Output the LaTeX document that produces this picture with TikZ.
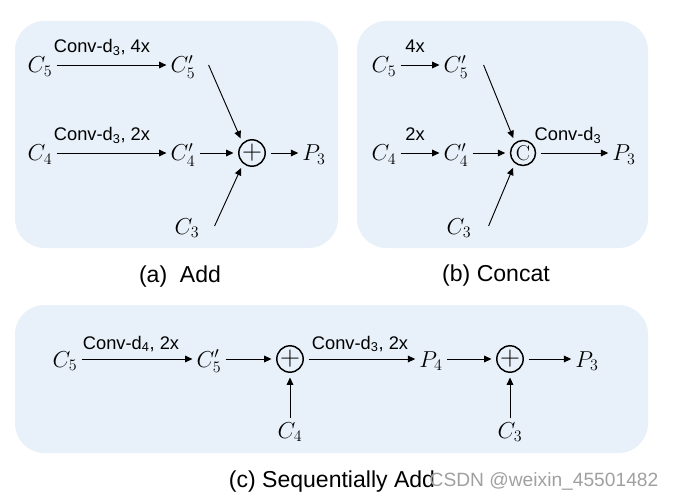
\documentclass[tikz,border=0pt]{standalone}
\usepackage{fontspec}
\setsansfont{Liberation Sans}
\usetikzlibrary{arrows.meta}
\definecolor{panelblue}{RGB}{232,241,249}
\definecolor{markgray}{RGB}{160,160,160}

\begin{document}
\begin{tikzpicture}[x=0.75pt,y=-0.75pt,
  panel/.style={fill=panelblue,rounded corners=22pt},
  feat/.style={inner sep=3pt,text height=12pt,text depth=0pt,font=\LARGE},
  lbl/.style={anchor=base,inner sep=0pt,font=\sffamily\fontsize{13.7}{16}\selectfont},
  subcap/.style={font=\sffamily\LARGE},
  op/.style={draw,circle,line width=1.1pt,minimum size=18.75pt,inner sep=0pt,outer sep=4pt},
  plus/.style={op,font=\huge},
  arr/.style={-{Triangle[length=5.5pt,width=5pt]},line width=0.7pt}]
\useasboundingbox (0,0) rectangle (673,502);

\fill[panel] (15,21) rectangle (338,248);
\fill[panel] (357,21) rectangle (648,248);
\fill[panel] (15,305) rectangle (648,453);

\node[feat] (c5a) at (40,65) {$C_5$};
\node[feat] (c5pa) at (183,65) {$C'_5$};
\node[feat] (c4a) at (40,153) {$C_4$};
\node[feat] (c4pa) at (183,153) {$C'_4$};
\node[feat] (c3a) at (187,226) {$C_3$};
\node[feat] (p3a) at (314,153) {$P_3$};
\node[plus] (adda) at (252,153) {$+$};
\node[lbl] (la1) at (102,53) {Conv-d\textsubscript{3}, 4x};
\node[lbl] (la2) at (102,141) {Conv-d\textsubscript{3}, 2x};

\draw[arr] (c5a) -- (c5pa);
\draw[arr] (c4a) -- (c4pa);
\draw[arr] (c4pa) -- (adda);
\draw[arr] (adda) -- (p3a);
\draw[arr] ([shift={(9,0)}]c5pa.east) -- (adda.128);
\draw[arr] ([shift={(11,0)}]c3a.east) -- (adda.234);
\node[subcap] (capa) at (180,277) {(a)~ Add};

\node[feat] (c5b) at (384,65) {$C_5$};
\node[feat] (c5pb) at (456,65) {$C'_5$};
\node[feat] (c4b) at (384,153) {$C_4$};
\node[feat] (c4pb) at (456,153) {$C'_4$};
\node[feat] (c3b) at (459,226) {$C_3$};
\node[feat] (p3b) at (624,153) {$P_3$};
\node[op,font=\rmfamily\fontsize{16}{16}\selectfont] (catb) at (523,153) {C};
\node[lbl] (lb1) at (415,53) {4x};
\node[lbl] (lb2) at (415,141) {2x};
\node[lbl] (lb3) at (568,141) {Conv-d\textsubscript{3}};

\draw[arr] (c5b) -- (c5pb);
\draw[arr] (c4b) -- (c4pb);
\draw[arr] (c4pb) -- (catb);
\draw[arr] (catb) -- (p3b);
\draw[arr] ([shift={(11,0)}]c5pb.east) -- (catb.123);
\draw[arr] ([shift={(13,0)}]c3b.east) -- (catb.236);
\node[subcap] (capb) at (496,276) {(b) Concat};

\node[feat] (c5c) at (65,359) {$C_5$};
\node[feat] (c5pc) at (209,359) {$C'_5$};
\node[plus] (addc1) at (290,359) {$+$};
\node[feat] (c4c) at (290,430) {$C_4$};
\node[feat] (p4c) at (431,359) {$P_4$};
\node[plus] (addc2) at (510,359) {$+$};
\node[feat] (c3c) at (510,430) {$C_3$};
\node[feat] (p3c) at (587,359) {$P_3$};
\node[lbl] (lc1) at (131,349) {Conv-d\textsubscript{4}, 2x};
\node[lbl] (lc2) at (360,349) {Conv-d\textsubscript{3}, 2x};

\draw[arr] (c5c) -- (c5pc);
\draw[arr] (c5pc) -- (addc1);
\draw[arr] (addc1) -- (p4c);
\draw[arr] (p4c) -- (addc2);
\draw[arr] (addc2) -- (p3c);
\draw[arr] (c4c) -- (addc1);
\draw[arr] (c3c) -- (addc2);
\node[subcap] (capc) at (332,482) {(c) Sequentially Add};

\node[font=\sffamily\fontsize{14.4}{16}\selectfont,text=markgray] (mark) at (544,481) {CSDN @weixin\_45501482};

\end{tikzpicture}
\end{document}
